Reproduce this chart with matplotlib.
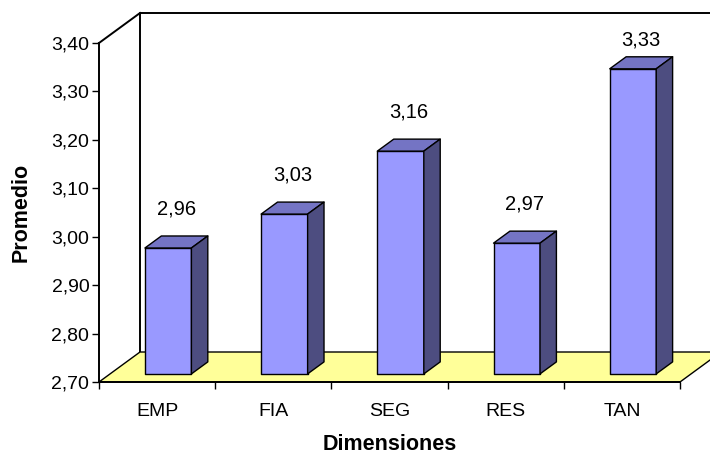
import matplotlib
matplotlib.use("Agg")
import matplotlib.pyplot as plt
from matplotlib.patches import Polygon

plt.rcParams['font.family'] = ['Liberation Sans', 'DejaVu Sans']

# promedio por dimension
dimensiones = ['EMP', 'FIA', 'SEG', 'RES', 'TAN']
promedios = [2.96, 3.03, 3.16, 2.97, 3.33]
etiquetas = ['2,96', '3,03', '3,16', '2,97', '3,33']
y_ticks = [2.7, 2.8, 2.9, 3.0, 3.1, 3.2, 3.3, 3.4]
y_labels = ['2,70', '2,80', '2,90', '3,00', '3,10', '3,20', '3,30', '3,40']

Y0, Y1 = 2.7, 3.4
# desplazamiento de profundidad (efecto 3D) en unidades de datos
DX = 41 / 116.2
DY = 30 / 484.3
F0, F1 = 0.27, 0.67          # profundidad frontal / trasera de las barras
W0, W1 = 0.30, 0.70          # ancho de barra dentro de la categoria

frente = '#9999FF'
tapa = '#7474C4'
lado = '#4D4D80'
piso = '#FFFF99'

fig = plt.figure(figsize=(7.10, 4.54), dpi=100)
ax = fig.add_axes([99 / 710, 72 / 454, 581 / 710, 339 / 454])
ax.set_xlim(0, len(dimensiones))
ax.set_ylim(Y0, Y1)
ax.patch.set_visible(False)

n = len(dimensiones)
lw_ax = 1.4

# pared del fondo
ax.plot([DX, DX, n + DX], [Y0 + DY, Y1 + DY, Y1 + DY], color='black', lw=lw_ax,
        clip_on=False, zorder=1, solid_capstyle='butt')
ax.plot([0, DX], [Y1, Y1 + DY], color='black', lw=lw_ax, clip_on=False, zorder=1)

# piso
ax.add_patch(Polygon([(0, Y0), (n, Y0), (n + DX, Y0 + DY), (DX, Y0 + DY)],
                     closed=True, facecolor=piso, edgecolor='black', lw=1.0,
                     clip_on=False, zorder=2))

for i, v in enumerate(promedios):
    x0, x1 = i + W0, i + W1
    cara = [(x0 + F0 * DX, Y0 + F0 * DY), (x1 + F0 * DX, Y0 + F0 * DY),
            (x1 + F0 * DX, v + F0 * DY), (x0 + F0 * DX, v + F0 * DY)]
    sup = [(x0 + F0 * DX, v + F0 * DY), (x1 + F0 * DX, v + F0 * DY),
           (x1 + F1 * DX, v + F1 * DY), (x0 + F1 * DX, v + F1 * DY)]
    der = [(x1 + F0 * DX, Y0 + F0 * DY), (x1 + F1 * DX, Y0 + F1 * DY),
           (x1 + F1 * DX, v + F1 * DY), (x1 + F0 * DX, v + F0 * DY)]
    for pts, c in ((cara, frente), (sup, tapa), (der, lado)):
        ax.add_patch(Polygon(pts, closed=True, facecolor=c, edgecolor='black',
                             lw=1.0, joinstyle='round', clip_on=False, zorder=3))
    # etiqueta sobre la barra, sin pasar del techo del grafico
    ty = min(v + 0.08, 3.39) + F0 * DY
    ax.text(i + 0.5 + 0.47 * DX, ty, etiquetas[i], ha='center', va='center',
            fontsize=14.5, clip_on=False, zorder=4)

for s in ('top', 'right'):
    ax.spines[s].set_visible(False)
ax.spines['left'].set_linewidth(lw_ax)
ax.spines['bottom'].set_linewidth(lw_ax)
ax.spines['left'].set_zorder(5)
ax.spines['bottom'].set_zorder(5)

ax.set_yticks(y_ticks)
ax.set_yticklabels(y_labels, fontsize=14)
ax.tick_params(axis='y', direction='out', length=5, width=1.0, pad=2)

ax.set_xticks(range(n + 1))
ax.set_xticklabels([])
ax.set_xticks([i + 0.5 for i in range(n)], minor=True)
ax.set_xticklabels(dimensiones, minor=True, fontsize=14)
ax.tick_params(axis='x', which='major', direction='out', length=5, width=1.0)
ax.tick_params(axis='x', which='minor', length=0, pad=15)

ax.set_xlabel('Dimensiones', fontsize=15.5, fontweight='bold', labelpad=10)
ax.set_ylabel('Promedio', fontsize=15.5, fontweight='bold', labelpad=14)

fig.savefig('out.png', dpi=100)
